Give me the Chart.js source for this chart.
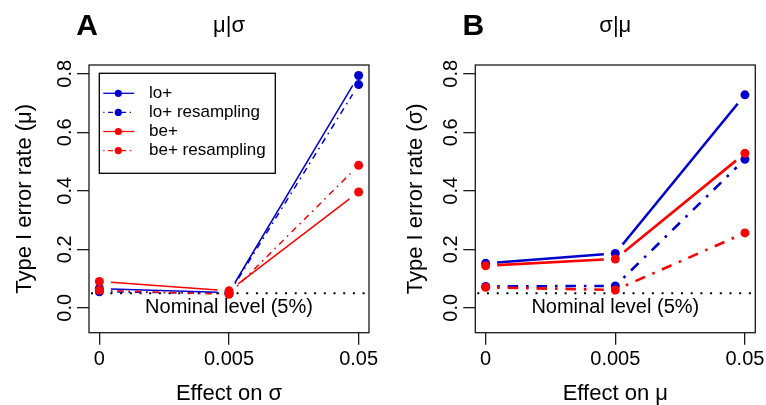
<!DOCTYPE html>
<html>
<head>
<meta charset="utf-8">
<script src="https://cdn.jsdelivr.net/npm/chart.js@4.4.1/dist/chart.umd.min.js"></script>
<style>
  html, body { margin: 0; padding: 0; background: #fff; }
  #wrap { position: relative; width: 766px; height: 405px; overflow: hidden; }
  canvas { position: absolute; top: 0; }
  #panelA { left: 0; }
  #panelB { left: 383px; }
</style>
</head>
<body>
<div id="wrap">
  <canvas id="panelA" width="383" height="405"></canvas>
  <canvas id="panelB" width="383" height="405"></canvas>
</div>
<script>
// ---- data ----
const effectLevels = ['0', '0.005', '0.05'];
const seriesNames = ['lo+', 'lo+ resampling', 'be+', 'be+ resampling'];
const yTickValues = [0, 0.2, 0.4, 0.6, 0.8];
const yTickLabels = ['0.0', '0.2', '0.4', '0.6', '0.8'];
const nominalLevel = 0.05;
const nominalLabel = 'Nominal level (5%)';

// A: type I error rate for mu, effect on sigma
const loPlusA     = [0.066, 0.052, 0.794];
const loPlusResA  = [0.055, 0.049, 0.763];
const bePlusA     = [0.090, 0.058, 0.396];
const bePlusResA  = [0.060, 0.046, 0.487];

// B: type I error rate for sigma, effect on mu
const loPlusB     = [0.152, 0.186, 0.728];
const loPlusResB  = [0.073, 0.075, 0.508];
const bePlusB     = [0.144, 0.167, 0.528];
const bePlusResB  = [0.070, 0.061, 0.256];

// ---- styling ----
const FONT = '"Liberation Sans", Arial, Helvetica, sans-serif';
Chart.defaults.font.family = FONT;
Chart.defaults.color = '#000';

const seriesColors = ['#0000CD', '#0000CD', '#FF0000', '#FF0000'];
const seriesDashed = [false, true, false, true];
const AXIS_COLOR = '#1a1a1a';

// segment between two points, interrupted around each point
function gappedSegment(ctx, p0, p1, gap) {
  const dx = p1.x - p0.x, dy = p1.y - p0.y;
  const len = Math.hypot(dx, dy);
  if (len <= 2 * gap) return;
  const ux = dx / len, uy = dy / len;
  ctx.beginPath();
  ctx.moveTo(p0.x + ux * gap, p0.y + uy * gap);
  ctx.lineTo(p1.x - ux * gap, p1.y - uy * gap);
  ctx.stroke();
}

const basePlot = {
  id: 'basePlot',
  beforeDatasetsDraw(chart, args, opts) {
    const { ctx, chartArea: ca, scales: { y } } = chart;
    const yy = y.getPixelForValue(nominalLevel);
    ctx.save();
    ctx.strokeStyle = '#000';
    ctx.lineWidth = 2;
    ctx.setLineDash([2, 7.7]);
    ctx.beginPath();
    ctx.moveTo(ca.left + 2, yy);
    ctx.lineTo(ca.right, yy);
    ctx.stroke();
    ctx.restore();
  },
  beforeDatasetDraw(chart, args, opts) {
    const ds = chart.data.datasets[args.index];
    const pts = args.meta.data;
    const ctx = chart.ctx;
    ctx.save();
    ctx.strokeStyle = ds.borderColor;
    ctx.lineWidth = ds.borderWidth;
    ctx.setLineDash(ds.borderDash || []);
    ctx.lineCap = 'butt';
    for (let i = 0; i < pts.length - 1; i++) {
      gappedSegment(ctx, pts[i], pts[i + 1], opts.gap);
    }
    ctx.restore();
  },
  afterDraw(chart, args, opts) {
    const { ctx, chartArea: ca, scales: { x, y } } = chart;
    ctx.save();

    // frame around the plotting region
    ctx.strokeStyle = AXIS_COLOR;
    ctx.lineWidth = 1.3;
    ctx.setLineDash([]);
    ctx.strokeRect(ca.left, ca.top, ca.right - ca.left, ca.bottom - ca.top);

    // y tick labels, written along the axis
    ctx.fillStyle = '#000';
    ctx.font = '20px ' + FONT;
    ctx.textAlign = 'center';
    ctx.textBaseline = 'middle';
    y.ticks.forEach((t, i) => {
      const py = y.getPixelForValue(t.value);
      ctx.save();
      ctx.translate(ca.left - 24, py);
      ctx.rotate(-Math.PI / 2);
      ctx.fillText(yTickLabels[i], 0, 0);
      ctx.restore();
    });

    // nominal level caption
    ctx.font = '20px ' + FONT;
    ctx.fillText(nominalLabel, x.getPixelForValue(1), y.getPixelForValue(nominalLevel) + 14.5);

    // panel heading and letter
    ctx.textBaseline = 'alphabetic';
    ctx.font = '22px ' + FONT;
    ctx.fillText(opts.heading, (ca.left + ca.right) / 2, 32);
    ctx.font = 'bold 30px ' + FONT;
    ctx.fillText(opts.letter, ca.left - 2, 35);

    // legend box
    if (opts.legend) {
      const bx = ca.left + 10.3, by = ca.top + 8.3, bw = 176, bh = 100;
      ctx.strokeStyle = '#000';
      ctx.lineWidth = 1.3;
      ctx.strokeRect(bx, by, bw, bh);
      ctx.font = '17px ' + FONT;
      ctx.textAlign = 'left';
      ctx.textBaseline = 'middle';
      chart.data.datasets.forEach((ds, i) => {
        const ry = by + 20 + i * 19.1;
        ctx.strokeStyle = ds.borderColor;
        ctx.lineWidth = 1.3;
        ctx.setLineDash(ds.borderDash && ds.borderDash.length ? [1.2, 3.6, 4.8, 3.6] : []);
        ctx.beginPath();
        ctx.moveTo(bx + 4, ry);
        ctx.lineTo(bx + 35, ry);
        ctx.stroke();
        ctx.setLineDash([]);
        ctx.fillStyle = ds.pointBackgroundColor;
        ctx.beginPath();
        ctx.arc(bx + 19, ry, 3.6, 0, Math.PI * 2);
        ctx.fill();
        ctx.fillStyle = '#000';
        ctx.fillText(ds.label, bx + 49.7, ry);
      });
    }
    ctx.restore();
  }
};

function makePanel(canvasId, cfg) {
  const datasets = cfg.series.map((vals, i) => ({
    label: seriesNames[i],
    data: vals.map((v, k) => ({ x: k, y: v })),
    borderColor: seriesColors[i],
    backgroundColor: seriesColors[i],
    pointBackgroundColor: seriesColors[i],
    pointBorderColor: seriesColors[i],
    borderWidth: cfg.lineWidth,
    borderDash: seriesDashed[i] ? cfg.dash : [],
    showLine: false,
    pointRadius: 4.5,
    pointBorderWidth: 0,
    pointHoverRadius: 4.5,
    order: cfg.series.length - i
  }));

  const tickGrid = {
    drawOnChartArea: false,
    drawTicks: true,
    tickLength: 12,
    color: AXIS_COLOR,
    lineWidth: 1.3
  };

  return new Chart(document.getElementById(canvasId), {
    type: 'scatter',
    data: { datasets },
    options: {
      responsive: false,
      animation: false,
      events: [],
      layout: { padding: { left: 0, top: 65, right: cfg.rightPad, bottom: 0 } },
      plugins: {
        legend: { display: false },
        tooltip: { enabled: false },
        basePlot: {
          gap: 11.5,
          heading: cfg.heading,
          letter: cfg.letter,
          legend: cfg.legend
        }
      },
      scales: {
        x: {
          type: 'linear',
          min: -0.08,
          max: 2.08,
          afterBuildTicks: s => { s.ticks = effectLevels.map((_, i) => ({ value: i })); },
          ticks: {
            callback: v => effectLevels[v],
            font: { size: 20 },
            color: '#000',
            padding: 2.3,
            maxRotation: 0,
            minRotation: 0,
            autoSkip: false
          },
          grid: tickGrid,
          border: { display: false },
          title: {
            display: true,
            text: cfg.xTitle,
            color: '#000',
            font: { size: 22, lineHeight: 1 },
            padding: 0
          },
          afterFit: s => { s.height = 72.3; s.paddingLeft = 0; s.paddingRight = 0; }
        },
        y: {
          type: 'linear',
          min: -0.085,
          max: 0.83,
          afterBuildTicks: s => { s.ticks = yTickValues.map(v => ({ value: v })); },
          ticks: { display: false },
          grid: tickGrid,
          border: { display: false },
          title: {
            display: true,
            text: cfg.yTitle,
            color: '#000',
            font: { size: 22, lineHeight: 1 },
            padding: { top: cfg.yTitlePad, bottom: 0 }
          },
          afterFit: s => { s.width = cfg.left; s.paddingTop = 0; s.paddingBottom = 0; }
        }
      }
    },
    plugins: [basePlot]
  });
}

makePanel('panelA', {
  series: [loPlusA, loPlusResA, bePlusA, bePlusResA],
  heading: 'μ|σ',
  letter: 'A',
  xTitle: 'Effect on σ',
  yTitle: 'Type I error rate (μ)',
  left: 89,
  rightPad: 14,
  yTitlePad: 14,
  lineWidth: 1.5,
  dash: [1.6, 4.8, 6.4, 4.8],
  legend: true
});

makePanel('panelB', {
  series: [loPlusB, loPlusResB, bePlusB, bePlusResB],
  heading: 'σ|μ',
  letter: 'B',
  xTitle: 'Effect on μ',
  yTitle: 'Type I error rate (σ)',
  left: 92.3,
  rightPad: 10.7,
  yTitlePad: 22.3,
  lineWidth: 2.6,
  dash: [2.6, 7.9, 10.5, 7.9],
  legend: false
});
</script>
</body>
</html>
